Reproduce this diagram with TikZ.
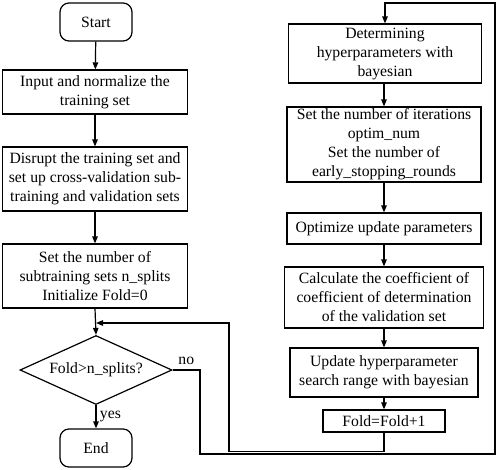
\documentclass[tikz,border=0pt]{standalone}
\usepackage{fontspec}
\setmainfont{Liberation Serif}
\usetikzlibrary{arrows.meta}
\usetikzlibrary{positioning}
\usetikzlibrary{shapes.geometric}

\begin{document}
\begin{tikzpicture}[x=1pt,y=-1pt,line width=1.2pt,
        >={Triangle[length=7pt,width=5.5pt]},
        every node/.style={font=\fontsize{15.7}{19}\selectfont},
        box/.style={draw, rectangle, align=center, inner sep=0pt},
        term/.style={draw, rectangle, rounded corners=9pt, minimum width=72pt, minimum height=38pt, inner sep=0pt},
        decision/.style={draw, diamond, minimum width=152pt, minimum height=69pt, inner sep=0pt, aspect=2.2}]
        \useasboundingbox (0,0) rectangle (498,469);
        % left column
        \node[term] (start) at (96,22) {Start};
        \node[box, minimum width=185pt, minimum height=44pt] (input) at (95,92) {Input and normalize the\\training set};
        \node[box, minimum width=185pt, minimum height=64pt] (disrupt) at (95,179) {Disrupt the training set and\\set up cross-validation sub-\\training and validation sets};
        \node[box, minimum width=185pt, minimum height=64pt] (splits) at (95,276) {Set the number of\\subtraining sets n\_splits\\Initialize Fold=0};
        \node[decision] (check) at (96,370) {Fold>n\_splits?};
        \node[term] (end) at (96,448) {End};
        % right column
        \node[box, minimum width=193pt, minimum height=59pt] (bayes) at (385,53.5) {Determining\\hyperparameters with\\bayesian};
        \node[box, minimum width=194pt, minimum height=75pt] (iters) at (384,144.5) {Set the number of iterations\\optim\_num\\Set the number of\\early\_stopping\_rounds};
        \node[box, minimum width=194pt, minimum height=31pt] (optim) at (384,228.5) {Optimize update parameters};
        \node[box, minimum width=199pt, minimum height=61pt] (calc) at (384,297.5) {Calculate the coefficient of\\coefficient of determination\\of the validation set};
        \node[box, minimum width=188pt, minimum height=49pt] (update) at (384,372.5) {Update hyperparameter\\search range with bayesian};
        \node[box, minimum width=122pt, minimum height=22pt] (fold) at (384,421) {Fold=Fold+1};
        \coordinate (join) at (96,323);
        % arrows
        \draw[->] (start) -- (input);
        \draw[->] (input) -- (disrupt);
        \draw[->] (disrupt) -- (splits);
        \draw[->] (splits.south) -- (check.north);
        \draw[->] (check.south) -- node[right] {yes} (end);
        \draw[->] (bayes.south -| fold) -- (iters.north -| fold);
        \draw[->] (iters.south -| fold) -- (optim.north -| fold);
        \draw[->] (optim) -- (calc);
        \draw[->] (calc) -- (update);
        \draw[->] (update) -- (fold);
        % loops
        \draw[->] (fold.south) -- ++(0,19) -| (229,323) -- (join);
        \draw[->] (check.east) -- node[above=1pt] {no} (200,370) -- (200,454) -- (495,454) -- (495,3) -- (385,3) -- (bayes.north);
\end{tikzpicture}
\end{document}
